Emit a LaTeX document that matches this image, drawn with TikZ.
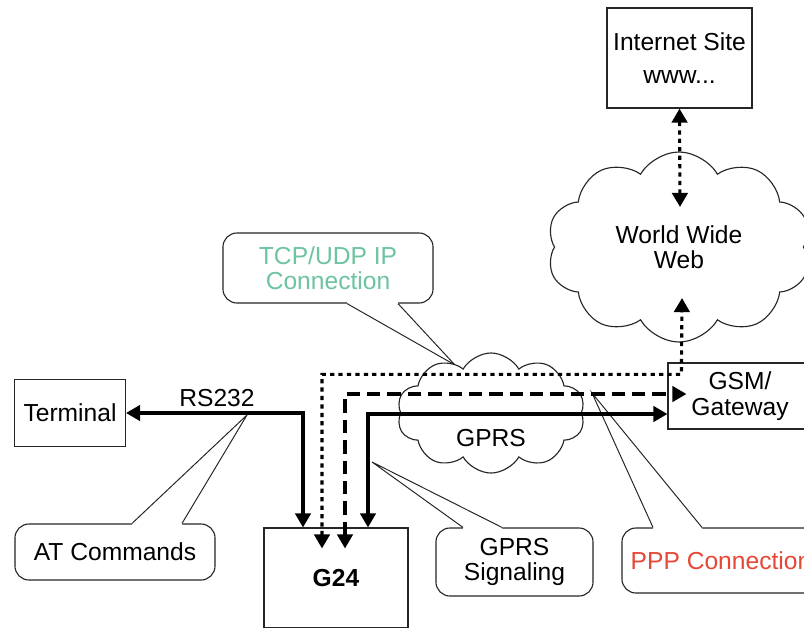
\documentclass[tikz,border=0pt]{standalone}
\usepackage{fontspec}
\setmainfont{Liberation Sans}
\usepackage{xcolor}
\usetikzlibrary{shapes,shapes.symbols,arrows.meta,calc}

\definecolor{tcpgreen}{RGB}{108,196,160}
\definecolor{pppred}{RGB}{230,72,54}

\begin{document}
\begin{tikzpicture}[x=0.025cm, y=-0.025cm, font=\fontsize{17.5}{18}\selectfont,
		link/.style = {line width=2.2pt},
		both/.style = {{Triangle[length=10pt,width=11pt]}-{Triangle[length=10pt,width=11pt]}}]
		\tikzset{box/.style={draw=black!85,rectangle,line width=0.8pt,inner sep=0pt,align=center}}
		\tikzset{talk/.style={draw=black!85,rectangle,rounded corners=0.35cm,line width=0.8pt,fill=white,inner sep=0pt,align=center}}
		\tikzset{puff/.style={draw=black!85,cloud,cloud puffs=10,cloud puff arc=120,cloud ignores aspect,line width=0.8pt,fill=white,align=center}}
		\tikzset{pointer/.style={draw=black!85,line width=0.7pt}}
		\tikzset{dotline/.style={link,dash pattern=on 3pt off 3pt}}
		\tikzset{dashline/.style={link,dash pattern=on 9.5pt off 5pt}}

		\useasboundingbox (0,0) rectangle (804,627);

		% Boxes
		\node[box, minimum width=3.625cm, minimum height=2.5cm] (site) at (679.5,58) {Internet Site\\[5.5pt]www...};
		\node[box, minimum width=2.775cm, minimum height=1.675cm] (terminal) at (70,413) {Terminal};
		\node[box, minimum width=3.6cm, minimum height=1.65cm] (gsm) at (740,396) {GSM/\\Gateway};
		\node[box, minimum width=3.6cm, minimum height=2.5cm, font=\fontsize{17.5}{18}\selectfont\bfseries] (g24) at (336,578) {G24};

		% Callouts
		\node[talk, minimum width=5.25cm, minimum height=1.75cm, text=tcpgreen] (tcp) at (328,268) {TCP/UDP IP\\Connection};
		\node[talk, minimum width=5cm, minimum height=1.4cm] (atc) at (115,552) {AT Commands};
		\node[talk, minimum width=3.925cm, minimum height=1.7cm] (sig) at (514.5,562) {GPRS\\Signaling};
		\node[talk, minimum width=4.95cm, minimum height=1.625cm, text=pppred] (ppp) at (721,560.5) {PPP Connection};

		\coordinate (tcptip) at (455,365);
		\coordinate (atctip) at (247,415);
		\coordinate (sigtip) at (372,462);
		\coordinate (ppptip) at (592,393);

		\fill[white] ($(tcp.south)+(19,-2)$) -- ($(tcp.south)+(19,0)$) -- (tcptip) -- ($(tcp.south)+(70,0)$) -- ($(tcp.south)+(70,-2)$) -- cycle;
		\draw[pointer] ($(tcp.south)+(19,0)$) -- (tcptip) -- ($(tcp.south)+(70,0)$);
		\fill[white] ($(atc.north)+(17,2)$) -- ($(atc.north)+(17,0)$) -- (atctip) -- ($(atc.north)+(67,0)$) -- ($(atc.north)+(67,2)$) -- cycle;
		\draw[pointer] ($(atc.north)+(17,0)$) -- (atctip) -- ($(atc.north)+(67,0)$);
		\fill[white] ($(sig.north)+(-51.5,2)$) -- ($(sig.north)+(-51.5,0)$) -- (sigtip) -- ($(sig.north)+(-12.5,0)$) -- ($(sig.north)+(-12.5,2)$) -- cycle;
		\draw[pointer] ($(sig.north)+(-51.5,0)$) -- (sigtip) -- ($(sig.north)+(-12.5,0)$);
		\fill[white] ($(ppp.north)+(-68,2)$) -- ($(ppp.north)+(-68,0)$) -- (ppptip) -- ($(ppp.north)+(-19,0)$) -- ($(ppp.north)+(-19,2)$) -- cycle;
		\draw[pointer] ($(ppp.north)+(-68,0)$) -- (ppptip) -- ($(ppp.north)+(-19,0)$);

		% Clouds
		\node[puff, minimum width=6.6cm, minimum height=4.75cm] (www) at (679,247) {World Wide\\Web};
		\node[puff, minimum width=4.7cm, minimum height=3cm] (gprs) at (491,413) {};
		\node (gprstext) at (491,438) {GPRS};
		\node (rs) at (217,398) {RS232};

		% Arrows
		\coordinate (wwwtop) at (680,207);
		\coordinate (wwwtip) at (682,298);
		\coordinate (gsmdot) at ($(gsm.north west)+(14,12)$);

		\draw[dotline, both] (site.south) -- (wwwtop);
		\draw[link, both] (terminal.east) -| ($(g24.north)+(-33,0)$);
		\draw[dotline, both] ($(g24.north)+(-14,21)$) |- (gsmdot) -- (wwwtip);
		\draw[dashline, both] ($(g24.north)+(9,21)$) |- ($(gsm.west)+(19,-2)$);
		\draw[link, both] ($(g24.north)+(32,0)$) |- ($(gsm.west)+(0,18)$);

	\end{tikzpicture}
\end{document}
